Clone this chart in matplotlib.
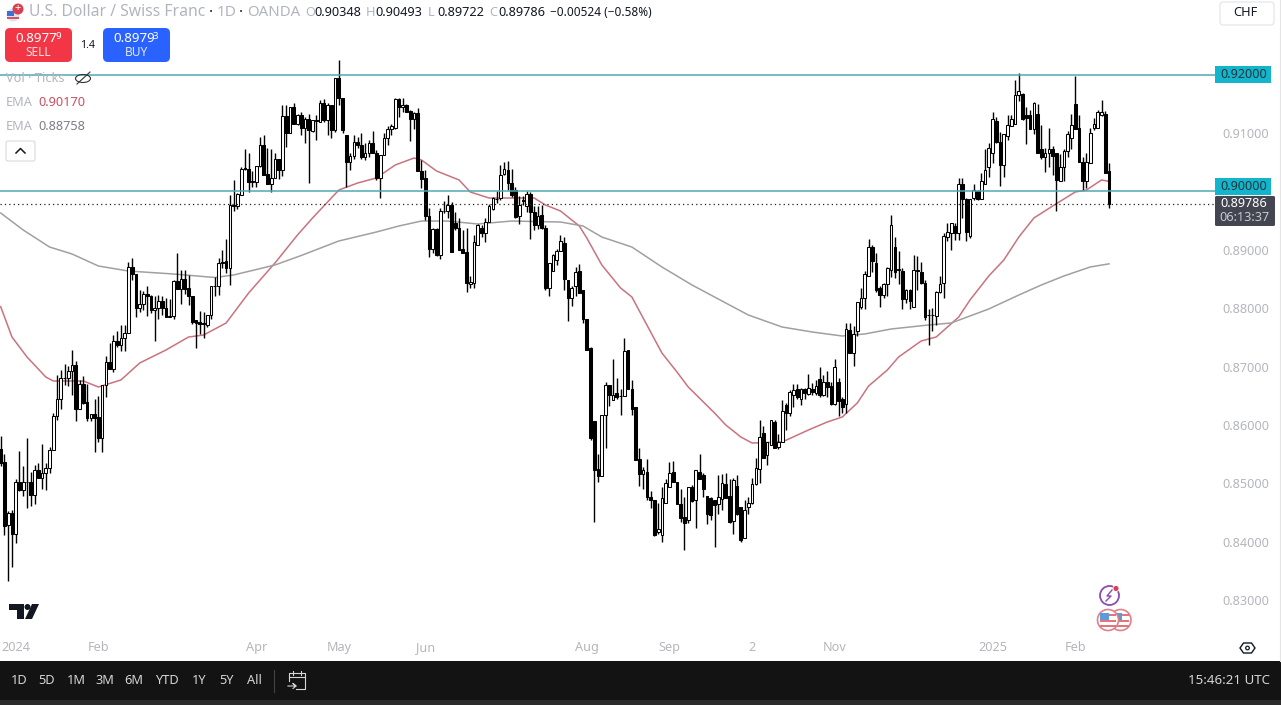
import numpy as np
import matplotlib
matplotlib.use("Agg")
import matplotlib.pyplot as plt
from matplotlib.patches import FancyBboxPatch, Circle, Rectangle, Polygon, Ellipse

plt.rcParams['font.family'] = ['Noto Sans', 'DejaVu Sans']

opens = [.8558,.8536,.8429,.8449,.8414,.8503,.8489,.8503,.8503,.8480,
         .8522,.8509,.8518,.8527,.8557,.8616,.8644,.8681,.8681,.8692,
         .8702,.8627,.8670,.8639,.8612,.8618,.8613,.8578,.8669,.8707,
         .8696,.8744,.8736,.8748,.8757,.8871,.8858,.8800,.8807,.8824,
         .8820,.8796,.8801,.8812,.8800,.8787,.8787,.8847,.8832,.8849,
         .8834,.8821,.8779,.8777,.8774,.8771,.8789,.8838,.8838,.8879,
         .8880,.8868,.8977,.8974,.8993,.9040,.9038,.9018,.9016,.9043,
         .9080,.9029,.9012,.9022,.9055,.9036,.9129,.9100,.9144,.9116,
         .9131,.9108,.9123,.9103,.9122,.9119,.9152,.9122,.9148,.9105,
         .9194,.9159,.9096,.9051,.9061,.9084,.9080,.9059,.9065,.9082,
         .9065,.9022,.9062,.9092,.9107,.9109,.9158,.9144,.9147,.9137,
         .9124,.9134,.9034,.9022,.8958,.8902,.8935,.8891,.8966,.8966,
         .8976,.8945,.8938,.8901,.8896,.8841,.8843,.8908,.8937,.8928,
         .8948,.8969,.8987,.8988,.9029,.9036,.9014,.9002,.8958,.8985,
         .8975,.8996,.8965,.8943,.8959,.8937,.8834,.8864,.8883,.8897,
         .8912,.8848,.8817,.8838,.8864,.8831,.8782,.8731,.8607,.8524,
         .8513,.8617,.8668,.8643,.8654,.8650,.8650,.8728,.8661,.8631,
         .8541,.8516,.8519,.8477,.8472,.8417,.8412,.8467,.8494,.8519,
         .8503,.8465,.8442,.8438,.8493,.8471,.8520,.8514,.8479,.8474,
         .8471,.8465,.8473,.8499,.8479,.8436,.8496,.8459,.8407,.8459,
         .8466,.8498,.8525,.8586,.8548,.8565,.8605,.8562,.8571,.8634,
         .8621,.8652,.8661,.8644,.8661,.8653,.8661,.8655,.8678,.8651,
         .8674,.8667,.8635,.8674,.8644,.8636,.8762,.8723,.8760,.8802,
         .8817,.8855,.8904,.8878,.8834,.8823,.8842,.8866,.8904,.8867,
         .8863,.8815,.8831,.8802,.8866,.8861,.8843,.8788,.8789,.8786,
         .8827,.8843,.8921,.8929,.8941,.8928,.9012,.8987,.8923,.8989,
         .9000,.8986,.9013,.9041,.9065,.9120,.9085,.9045,.9095,.9111,
         .9116,.9165,.9166,.9130,.9130,.9107,.9132,.9072,.9059,.9066,
         .9073,.9065,.9018,.9041,.9069,.9092,.9149,.9108,.9051,.9017,
         .9049,.9108,.9108,.9130,.9133,.90348]

highs = [.8581,.8550,.8452,.8454,.8507,.8555,.8530,.8577,.8520,.8532,
         .8535,.8567,.8535,.8562,.8620,.8685,.8694,.8704,.8701,.8728,
         .8709,.8677,.8684,.8670,.8618,.8645,.8649,.8669,.8718,.8741,
         .8754,.8761,.8771,.8771,.8879,.8885,.8858,.8831,.8830,.8837,
         .8822,.8821,.8822,.8821,.8817,.8815,.8848,.8894,.8865,.8866,
         .8857,.8821,.8780,.8795,.8794,.8789,.8838,.8854,.8885,.8899,
         .8919,.8994,.9020,.8997,.9042,.9072,.9065,.9035,.9043,.9093,
         .9097,.9075,.9072,.9065,.9055,.9148,.9148,.9145,.9152,.9133,
         .9136,.9128,.9132,.9122,.9131,.9157,.9158,.9151,.9148,.9194,
         .9225,.9160,.9096,.9065,.9096,.9093,.9099,.9082,.9088,.9103,
         .9071,.9063,.9099,.9111,.9116,.9159,.9159,.9159,.9149,.9139,
         .9135,.9143,.9054,.9036,.8972,.8937,.8937,.8971,.8983,.8994,
         .8982,.8965,.8954,.8934,.8938,.8855,.8925,.8944,.8942,.8954,
         .8979,.8990,.9000,.9045,.9051,.9052,.9039,.9008,.8992,.8992,
         .9001,.8999,.8974,.8974,.8976,.8942,.8878,.8893,.8902,.8925,
         .8921,.8848,.8837,.8871,.8875,.8831,.8782,.8734,.8607,.8550,
         .8617,.8674,.8669,.8712,.8680,.8661,.8748,.8729,.8677,.8631,
         .8561,.8528,.8541,.8486,.8472,.8466,.8493,.8508,.8537,.8539,
         .8503,.8491,.8477,.8494,.8497,.8523,.8550,.8517,.8479,.8477,
         .8471,.8515,.8516,.8517,.8508,.8509,.8514,.8459,.8472,.8477,
         .8509,.8543,.8608,.8598,.8571,.8609,.8608,.8584,.8643,.8637,
         .8659,.8670,.8670,.8663,.8663,.8687,.8671,.8677,.8700,.8685,
         .8693,.8674,.8712,.8680,.8648,.8774,.8774,.8769,.8810,.8835,
         .8864,.8918,.8908,.8894,.8838,.8843,.8871,.8959,.8922,.8897,
         .8868,.8832,.8832,.8891,.8889,.8879,.8848,.8798,.8800,.8830,
         .8855,.8928,.8946,.8945,.8946,.9022,.9022,.8988,.8987,.9012,
         .9002,.9031,.9073,.9082,.9136,.9127,.9102,.9098,.9130,.9130,
         .9190,.9202,.9168,.9145,.9139,.9153,.9150,.9113,.9075,.9109,
         .9077,.9065,.9064,.9073,.9104,.9133,.9198,.9131,.9059,.9065,
         .9108,.9125,.9140,.9156,.9138,.90493]

lows = [.8530,.8411,.8333,.8357,.8398,.8487,.8479,.8457,.8461,.8464,
        .8509,.8491,.8489,.8518,.8557,.8608,.8627,.8668,.8667,.8652,
        .8607,.8627,.8636,.8607,.8607,.8553,.8571,.8554,.8648,.8696,
        .8690,.8734,.8727,.8727,.8757,.8848,.8784,.8794,.8797,.8787,
        .8791,.8744,.8782,.8788,.8784,.8784,.8781,.8832,.8807,.8825,
        .8805,.8773,.8731,.8756,.8749,.8768,.8782,.8821,.8822,.8869,
        .8860,.8840,.8966,.8969,.8993,.9036,.8999,.9008,.9008,.9042,
        .9028,.9012,.8999,.9022,.9021,.9027,.9076,.9100,.9116,.9113,
        .9096,.9083,.9014,.9101,.9088,.9119,.9119,.9096,.9091,.9101,
        .9147,.9099,.9008,.9037,.9056,.9075,.9056,.9053,.9059,.9065,
        .9019,.8989,.9062,.9080,.9096,.9107,.9128,.9135,.9135,.9086,
        .9107,.9034,.9005,.8951,.8887,.8895,.8889,.8884,.8963,.8954,
        .8896,.8934,.8900,.8894,.8828,.8834,.8834,.8908,.8922,.8914,
        .8947,.8968,.8980,.8985,.9028,.9003,.8991,.8954,.8944,.8976,
        .8965,.8918,.8934,.8936,.8935,.8831,.8821,.8864,.8874,.8897,
        .8831,.8778,.8804,.8821,.8826,.8774,.8728,.8574,.8433,.8503,
        .8512,.8561,.8632,.8643,.8645,.8617,.8649,.8661,.8617,.8540,
        .8496,.8490,.8472,.8458,.8410,.8414,.8400,.8466,.8494,.8503,
        .8465,.8434,.8385,.8432,.8468,.8423,.8507,.8476,.8431,.8437,
        .8391,.8447,.8454,.8475,.8432,.8414,.8446,.8400,.8406,.8447,
        .8465,.8497,.8501,.8544,.8532,.8565,.8560,.8559,.8571,.8591,
        .8615,.8631,.8645,.8634,.8645,.8651,.8651,.8651,.8647,.8650,
        .8648,.8634,.8634,.8615,.8620,.8620,.8723,.8701,.8753,.8799,
        .8799,.8855,.8861,.8828,.8802,.8818,.8821,.8853,.8851,.8842,
        .8799,.8808,.8798,.8802,.8831,.8842,.8780,.8736,.8760,.8771,
        .8826,.8818,.8915,.8900,.8917,.8916,.8954,.8915,.8920,.8985,
        .8985,.8986,.9012,.9025,.9048,.9082,.9009,.9024,.9088,.9111,
        .9116,.9155,.9122,.9081,.9106,.9098,.9065,.9056,.9033,.9042,
        .9028,.8967,.9018,.9018,.9059,.9073,.9106,.9051,.9002,.9005,
        .9048,.9105,.9108,.9129,.9031,.89722]

closes = [.8534,.8427,.8449,.8414,.8503,.8489,.8502,.8502,.8480,.8522,
          .8509,.8518,.8527,.8557,.8616,.8644,.8680,.8681,.8692,.8702,
          .8627,.8670,.8638,.8612,.8618,.8612,.8578,.8669,.8707,.8696,
          .8744,.8736,.8748,.8757,.8871,.8858,.8800,.8807,.8824,.8820,
          .8796,.8801,.8812,.8800,.8785,.8785,.8847,.8832,.8849,.8832,
          .8821,.8777,.8774,.8773,.8772,.8789,.8838,.8838,.8878,.8878,
          .8868,.8977,.8974,.8995,.9039,.9038,.9016,.9016,.9043,.9080,
          .9028,.9012,.9022,.9055,.9036,.9129,.9100,.9144,.9116,.9131,
          .9108,.9123,.9105,.9122,.9121,.9152,.9122,.9148,.9105,.9194,
          .9159,.9105,.9051,.9061,.9084,.9079,.9059,.9065,.9082,.9065,
          .9022,.9062,.9092,.9107,.9111,.9158,.9144,.9147,.9135,.9124,
          .9134,.9034,.9021,.8958,.8902,.8935,.8891,.8966,.8967,.8977,
          .8896,.8938,.8900,.8894,.8843,.8845,.8914,.8942,.8928,.8948,
          .8975,.8988,.8986,.9028,.9039,.9015,.8994,.8956,.8976,.8984,
          .8996,.8965,.8942,.8957,.8937,.8834,.8878,.8891,.8898,.8915,
          .8850,.8817,.8835,.8861,.8826,.8781,.8728,.8577,.8523,.8513,
          .8617,.8668,.8651,.8652,.8647,.8649,.8727,.8661,.8628,.8540,
          .8516,.8523,.8476,.8472,.8412,.8421,.8474,.8500,.8517,.8503,
          .8465,.8440,.8432,.8493,.8470,.8522,.8508,.8491,.8447,.8446,
          .8462,.8476,.8501,.8475,.8433,.8505,.8447,.8403,.8455,.8466,
          .8498,.8527,.8580,.8544,.8571,.8608,.8560,.8571,.8623,.8621,
          .8656,.8659,.8647,.8661,.8654,.8664,.8657,.8667,.8651,.8673,
          .8665,.8635,.8699,.8641,.8631,.8765,.8723,.8755,.8810,.8817,
          .8859,.8904,.8881,.8831,.8822,.8842,.8868,.8942,.8862,.8866,
          .8816,.8831,.8813,.8865,.8864,.8843,.8785,.8788,.8788,.8828,
          .8842,.8923,.8930,.8945,.8928,.9012,.8987,.8931,.8986,.9003,
          .8986,.9017,.9037,.9075,.9123,.9085,.9045,.9098,.9113,.9123,
          .9165,.9172,.9123,.9126,.9106,.9151,.9065,.9058,.9066,.9073,
          .9060,.9020,.9041,.9069,.9098,.9113,.9106,.9051,.9017,.9051,
          .9099,.9115,.9135,.9136,.9031,.89786]

# red EMA, read every few bars
ema_fast_bars = [0,3,7,12,14,22,26,32,37,44,50,54,60,66,73,79,83,90,95,100,105,110,112,116,122,125,130,
                 142,145,149,154,156,160,165,168,171,176,180,183,190,193,197,200,208,215,220,224,228,231,
                 236,239,245,249,255,258,263,267,271,275,280,286,289,293,295]
ema_fast = [.88024,.87505,.87163,.8682,.86752,.86752,.86649,.86769,.8706,.87283,.87505,.87539,.87745,.88259,
            .88772,.89252,.89543,.90022,.90142,.90228,.9045,.9057,.90536,.90348,.90194,.89988,.89885,
            .89885,.89765,.89663,.89406,.892,.88738,.88344,.8819,.8783,.87231,.86906,.86649,.86204,.85998,
            .85793,.8569,.85707,.85913,.8605,.86135,.86375,.86666,.8694,.87163,.87437,.87505,.87848,.88139,
            .8855,.88824,.89217,.89543,.89748,.89988,.90022,.90194,.90170]

# grey EMA
ema_slow_bars = [0,6,13,19,26,34,46,57,62,73,80,90,100,106,112,119,127,136,149,155,160,168,176,184,193,199,
                 208,216,224,230,237,247,253,263,271,277,283,290,295]
ema_slow = [.89628,.89337,.89046,.88926,.88721,.88635,.88584,.88524,.88567,.88738,.88901,.89149,.89303,.89406,
            .89491,.89491,.8944,.89491,.89474,.89406,.89217,.89046,.88704,.88396,.88087,.87882,.87676,.87591,
            .87522,.87557,.87642,.87711,.87745,.87985,.88224,.88396,.8855,.88704,.88758]

y_ticks = [.83,.84,.85,.86,.87,.88,.89,.91]
levels = [.92,.90]
last_price = .89786
x_tick_bars = [4,26,68,90,113,156,178,200,222,264,286]
x_tick_labels = ['2024','Feb','Apr','May','Jun','Aug','Sep','2','Nov','2025','Feb']
range_buttons = ['1D','5D','1M','3M','6M','YTD','1Y','5Y','All']
range_x = [19,47,76,105,134,167,199,226,254]

W, H = 1281, 705
CHART_BOTTOM = 633
BAR0, BAR_STEP = 0.7, 3.757
Y92, PX_PER_UNIT = 74.5, 5840.0

def px_x(p):
	return (p - BAR0) / BAR_STEP

def px_y(p):
	return .92 - (p - Y92) / PX_PER_UNIT

fig = plt.figure(figsize=(W / 100, H / 100), dpi=100, facecolor='white')
ax = fig.add_axes([0, 1 - CHART_BOTTOM / H, 1215 / W, CHART_BOTTOM / H])
ax.set_xlim(px_x(0), px_x(1215))
ax.set_ylim(px_y(CHART_BOTTOM), px_y(0))
for s in ax.spines.values():
	s.set_visible(False)

o, h, l, c = map(np.array, (opens, highs, lows, closes))
bars = np.arange(len(o))
up = c >= o
ax.plot(ema_fast_bars, ema_fast, color='#c9737e', lw=1.1, zorder=2)
ax.plot(ema_slow_bars, ema_slow, color='#a0a0a0', lw=1.1, zorder=2)
ax.vlines(bars, l, h, color='black', lw=1.0, zorder=3)
ax.bar(bars, np.abs(c - o), bottom=np.minimum(o, c), width=0.72,
       color=np.where(up, 'white', 'black'), edgecolor='black', lw=0.75, zorder=4)
for lv in levels:
	ax.axhline(lv, color='#4fa9b5', lw=1.1, zorder=5)
ax.axhline(last_price, color='#222222', lw=0.9, ls=(0, (1, 2.5)), zorder=5)

ax.yaxis.tick_right()
ax.set_yticks(y_ticks)
ax.set_yticklabels(['%.5f' % t for t in y_ticks], color='#b4b6bd', fontsize=9.1)
ax.set_xticks(x_tick_bars)
ax.set_xticklabels(x_tick_labels, color='#b4b6bd', fontsize=9.1, va='baseline')
ax.tick_params(axis='both', length=0)
ax.tick_params(axis='x', pad=13)
ax.tick_params(axis='y', pad=5.5)

# overlay in pixel coordinates for the trading ui around the chart
ui = fig.add_axes([0, 0, 1, 1], facecolor='none')
ui.set_xlim(0, W)
ui.set_ylim(H, 0)
ui.axis('off')

def rbox(x0, y0, x1, y1, color, r=4, ec='none', lw=0):
	ui.add_patch(FancyBboxPatch((x0 + r, y0 + r), x1 - x0 - 2 * r, y1 - y0 - 2 * r,
		boxstyle='round,pad=%d,rounding_size=%d' % (r, r), fc=color, ec=ec, lw=lw))

def label(x, y, s, color='#131722', size=9.2, ha='left', **kw):
	ui.text(x, y, s, color=color, fontsize=size, ha=ha, va='center', **kw)

# header
ui.add_patch(Circle((13, 15), 6.5, fc='#d9e2f5', ec='none'))
ui.add_patch(Rectangle((7, 11), 7, 5, fc='#3d6fd6'))
ui.add_patch(Rectangle((7, 17), 12, 1.5, fc='#d9535f'))
ui.add_patch(Circle((18, 9), 5.5, fc='#d9404f', ec='none'))
label(18, 8.7, '+', 'white', 8, ha='center', fontweight='bold')
label(29, 12.5, 'U.S. Dollar / Swiss Franc', '#b2b5be', 11.3)
label(209, 12.5, '·', '#131722', 11)
label(217, 12.5, '1D', '#b2b5be', 11)
label(239, 12.5, '·', '#131722', 11)
label(247, 12.5, 'OANDA', '#b2b5be', 10.8)
ohlc_x = [305, 366, 428, 489]
ohlc_k = ['O', 'H', 'L', 'C']
ohlc_v = ['0.90348', '0.90493', '0.89722', '0.89786']
for x, k, v in zip(ohlc_x, ohlc_k, ohlc_v):
	label(x, 12.5, k, '#b2b5be', 9.2)
	label(x + 9, 12.5, v, '#131722', 9.2)
label(652, 12.5, '−0.00524 (−0.58%)', '#131722', 8.5, ha='right')

rbox(1220, 2, 1274, 25, 'white', r=3, ec='#e0e3eb', lw=0.8)
label(1233, 13, 'CHF', '#131722', 9.2)

# sell / buy
rbox(5, 28, 72, 62, '#f23645', r=5)
rbox(103, 28, 170, 62, '#2962ff', r=5)
label(15, 38.5, '0.8977', 'white', 9.6, fontweight='bold')
label(55, 36.5, '9', 'white', 7, fontweight='bold')
label(38.5, 53, 'SELL', '#f6dfe1', 8.6, ha='center')
label(113, 38.5, '0.8979', 'white', 9.6, fontweight='bold')
label(153, 36.5, '3', 'white', 7, fontweight='bold')
label(136.5, 53, 'BUY', '#dfe6fb', 8.6, ha='center')
label(88, 45.5, '1.4', '#131722', 7.6, ha='center')

# legend rows
label(6, 78.5, 'Vol · Ticks', '#b2b5be', 9.2)
ui.add_patch(Ellipse((83, 78.5), 15, 8, fc='none', ec='#333333', lw=0.8))
ui.plot([77, 90], [84, 72], color='#333333', lw=0.8)
label(6, 102.5, 'EMA', '#b2b5be', 9.2)
label(38, 102.5, '0.90170', '#c9505f', 9.2)
label(6, 126.5, 'EMA', '#b2b5be', 9.2)
label(38, 126.5, '0.88758', '#7d7f87', 9.2)
rbox(6, 141, 35, 161, 'white', r=2, ec='#d8dae0', lw=0.8)
ui.plot([16, 20.5, 25], [153, 148.5, 153], color='#131722', lw=1.1)

# price scale labels
for y0, txt in zip([66, 178], ['0.92000', '0.90000']):
	ui.add_patch(Rectangle((1215, y0), 56, 17, fc='#12b5cb', ec='none'))
	label(1244, y0 + 8.5, txt, '#24343c', 9.1, ha='center')
ui.add_patch(FancyBboxPatch((1215, 196), 60, 30, boxstyle='round,pad=0,rounding_size=1.5', fc='#434651', ec='none'))
label(1244, 203.5, '0.89786', 'white', 9.1, ha='center', fontweight='bold')
label(1244, 217.5, '06:13:37', '#c8cad0', 9.1, ha='center')

# tv logo
ui.add_patch(Polygon([(9, 604), (24, 604), (24, 619), (17, 619), (17, 610), (9, 610)], fc='#131722'))
ui.add_patch(Circle((27.5, 607), 3, fc='#131722'))
ui.add_patch(Polygon([(32, 604), (39, 604), (32, 619), (25, 619)], fc='#131722'))

# event icons
ui.add_patch(Circle((1109.5, 595.5), 9.5, fc='white', ec='#8e4bb0', lw=1.3))
ui.plot([1112, 1107, 1111, 1106], [590, 596, 596, 601], color='#8e4bb0', lw=1)
ui.add_patch(Circle((1116, 588.5), 3, fc='#d9404f', ec='white', lw=0.6))
for cx in [1120.5, 1108]:
	ui.add_patch(Circle((cx, 620), 10.5, fc='white', ec='#e08088', lw=1.2))
	ui.add_patch(Rectangle((cx - 8, 614), 16, 2, fc='#e2747e'))
	ui.add_patch(Rectangle((cx - 8, 620), 16, 2, fc='#e2747e'))
	ui.add_patch(Rectangle((cx - 8, 625), 16, 2, fc='#e2747e'))
	ui.add_patch(Rectangle((cx - 8, 613), 9, 7, fc='#5b9bdc'))

# settings hexagon
ui.add_patch(Polygon([(1240, 648), (1243.5, 643), (1251.5, 643), (1255, 648), (1251.5, 653), (1243.5, 653)],
	fc='white', ec='#131722', lw=1))
ui.add_patch(Circle((1247.5, 648), 1.8, fc='white', ec='#131722', lw=0.9))

# bottom toolbar
ui.plot([1279.5, 1279.5], [0, 661], color='#e4e4e4', lw=0.8)
ui.add_patch(Rectangle((0, 661), W, 39, fc='#131313', ec='none'))
ui.add_patch(Rectangle((0, 700), W, 5, fc='#2a2a2a', ec='none'))
for x, t in zip(range_x, range_buttons):
	label(x, 681, t, '#d6d6d6', 9.2, ha='center')
ui.plot([273.5, 273.5], [670, 692], color='#444444', lw=0.8)
ui.plot([289, 289, 305, 305, 296], [681, 673, 673, 689, 689], color='#d6d6d6', lw=0.8)
ui.plot([289, 305], [677, 677], color='#d6d6d6', lw=0.8)
ui.plot([293, 293], [671, 675], color='#d6d6d6', lw=0.8)
ui.plot([301, 301], [671, 675], color='#d6d6d6', lw=0.8)
ui.plot([288, 296, 293, 296, 293], [686, 686, 683.5, 686, 688.5], color='#d6d6d6', lw=0.8)
label(1270, 681, '15:46:21 UTC', '#d6d6d6', 9.6, ha='right')

fig.savefig('out.png', dpi=100)
